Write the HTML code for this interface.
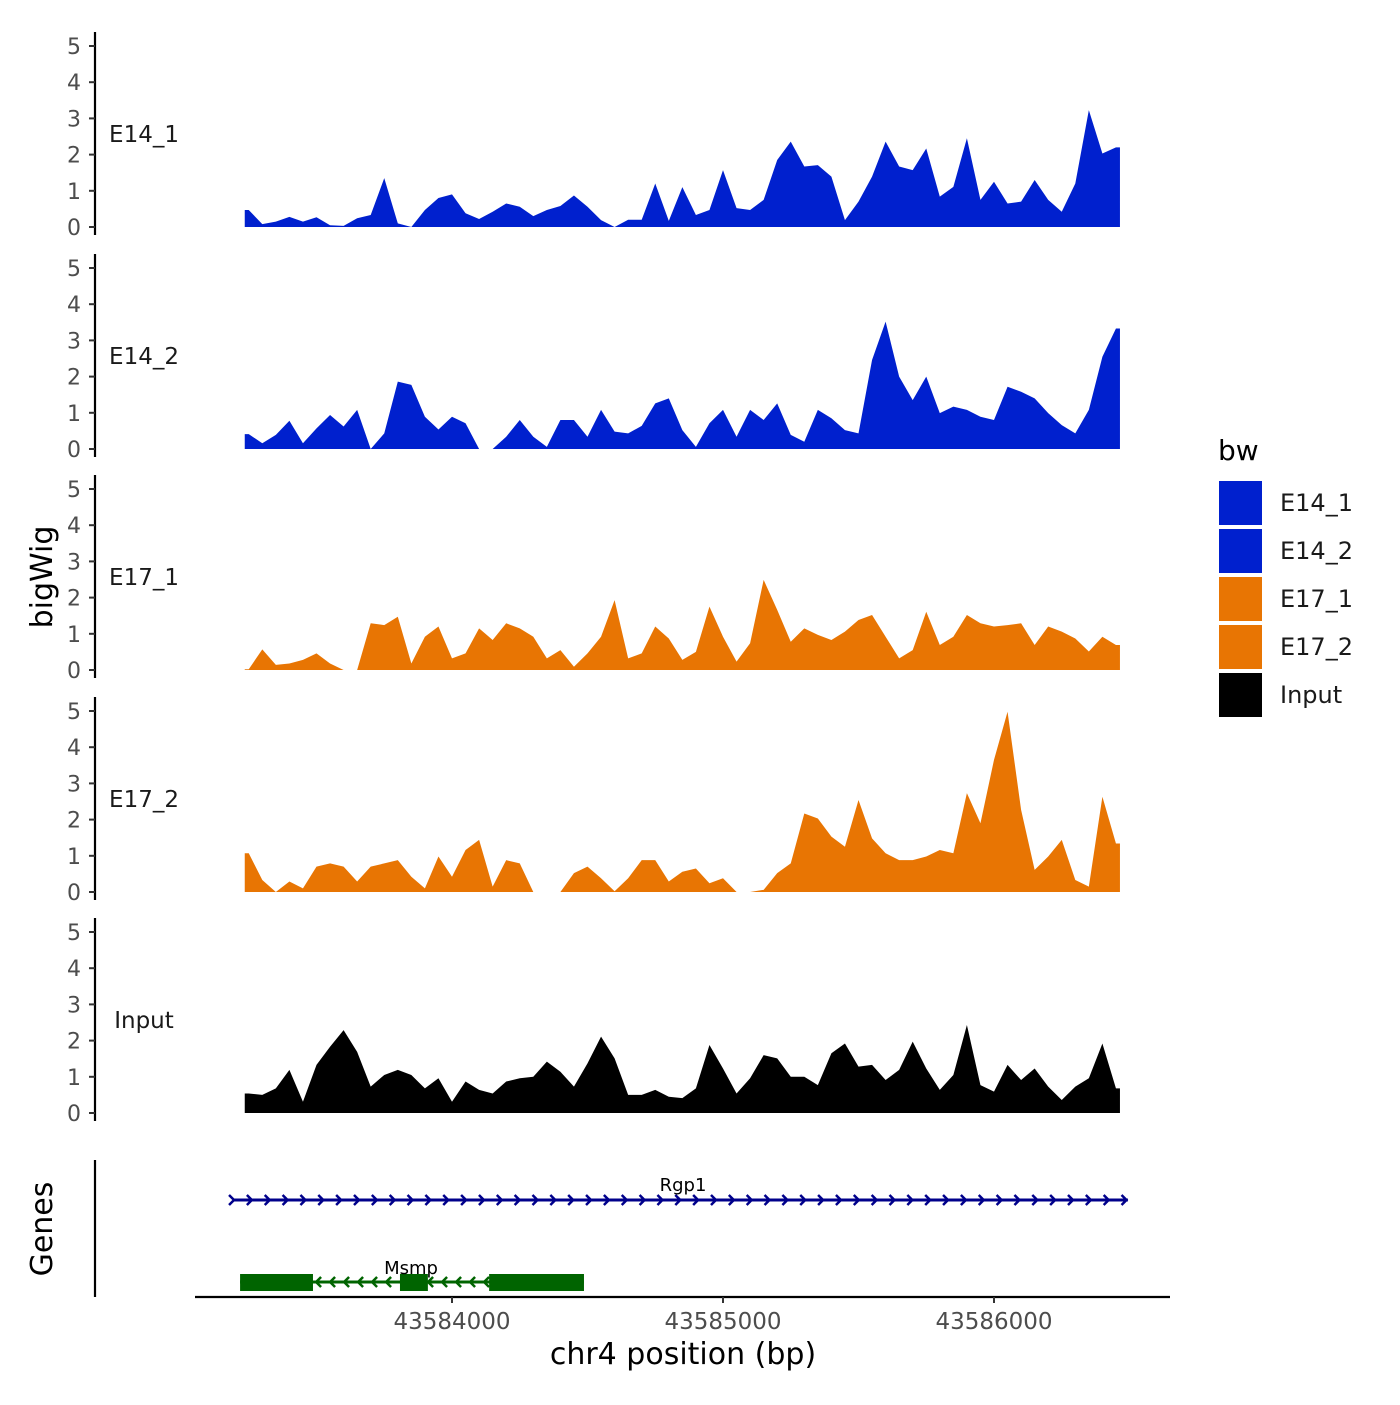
<!DOCTYPE html>
<html><head><meta charset="utf-8"><style>
body{margin:0;background:#fff}
svg text{font-family:"DejaVu Sans","Liberation Sans",sans-serif}
</style></head><body>
<svg id="chart" width="1400" height="1400" viewBox="0 0 1400 1400" xmlns="http://www.w3.org/2000/svg">
<rect width="1400" height="1400" fill="#fff"/>
<g id="tracks"></g>
<g id="genes"></g>
<g id="xaxis"></g>
<text transform="translate(52,577) rotate(-90)" text-anchor="middle" font-size="30" fill="#000">bigWig</text>
<text transform="translate(52,1229) rotate(-90)" text-anchor="middle" font-size="30" fill="#000">Genes</text>
<text x="683" y="1364" text-anchor="middle" font-size="30" fill="#000">chr4 position (bp)</text>
<g>
<text x="1218" y="460" font-size="28" fill="#000">bw</text>
<g id="legend"></g>
</g>
</svg>
<script>
const bins = [];
for (let i = 0; i <= 64; i++) bins.push(43583250 + 50 * i);
const trackNames = ["E14_1","E14_2","E17_1","E17_2","Input"];
const trackColors = ["#0020CE","#0020CE","#E87503","#E87503","#000000"];
const e14_1 = [0.47,0.08,0.15,0.28,0.15,0.27,0.05,0.03,0.24,0.33,1.35,0.1,0,0.47,0.8,0.9,0.38,0.22,0.42,0.65,0.56,0.3,0.47,0.58,0.87,0.56,0.19,0,0.2,0.2,1.2,0.17,1.1,0.33,0.47,1.57,0.52,0.47,0.75,1.85,2.36,1.67,1.71,1.39,0.19,0.7,1.39,2.36,1.67,1.57,2.17,0.84,1.11,2.45,0.75,1.25,0.65,0.7,1.3,0.75,0.42,1.2,3.23,2.03,2.2];
const e14_2 = [0.41,0.16,0.39,0.78,0.16,0.57,0.94,0.62,1.08,0,0.43,1.86,1.77,0.89,0.54,0.89,0.71,0,0,0.34,0.8,0.34,0.06,0.8,0.8,0.34,1.08,0.48,0.43,0.64,1.26,1.4,0.52,0.06,0.71,1.08,0.34,1.08,0.8,1.26,0.39,0.2,1.08,0.85,0.52,0.43,2.46,3.52,2.0,1.35,2.0,0.99,1.17,1.08,0.89,0.8,1.72,1.58,1.4,0.99,0.66,0.43,1.08,2.55,3.33];
const e17_1 = [0.02,0.57,0.14,0.18,0.28,0.46,0.18,0,0,1.29,1.24,1.47,0.18,0.92,1.2,0.32,0.46,1.15,0.83,1.29,1.15,0.92,0.32,0.55,0.09,0.46,0.92,1.93,0.32,0.46,1.2,0.87,0.28,0.5,1.75,0.92,0.23,0.74,2.49,1.66,0.78,1.15,0.97,0.83,1.06,1.38,1.52,0.92,0.32,0.55,1.61,0.69,0.92,1.52,1.29,1.2,1.24,1.29,0.69,1.2,1.06,0.87,0.51,0.92,0.69];
const e17_2 = [1.07,0.33,0,0.29,0.1,0.7,0.79,0.7,0.29,0.7,0.79,0.88,0.42,0.1,0.98,0.42,1.16,1.44,0.15,0.88,0.79,0,0,0,0.52,0.7,0.38,0.02,0.38,0.88,0.88,0.29,0.56,0.65,0.24,0.38,0,0,0.06,0.52,0.79,2.17,2.03,1.53,1.25,2.54,1.48,1.07,0.88,0.88,0.98,1.16,1.07,2.73,1.9,3.65,4.98,2.27,0.61,0.98,1.44,0.33,0.15,2.63,1.34];
const input = [0.54,0.5,0.68,1.19,0.31,1.33,1.83,2.29,1.69,0.73,1.05,1.19,1.05,0.68,0.96,0.31,0.87,0.64,0.54,0.87,0.96,1.0,1.42,1.14,0.73,1.37,2.11,1.51,0.5,0.5,0.64,0.45,0.41,0.68,1.88,1.23,0.54,0.96,1.6,1.51,1.0,1.0,0.77,1.65,1.92,1.28,1.33,0.91,1.19,1.97,1.23,0.64,1.05,2.43,0.77,0.59,1.33,0.91,1.23,0.73,0.36,0.73,0.96,1.92,0.68];
const yTicks = [0,1,2,3,4,5];
const xTicks = [43584000,43585000,43586000];
const xTickLabels = ["43584000","43585000","43586000"];
const legendLabels = ["E14_1","E14_2","E17_1","E17_2","Input"];
const genesList = ["Rgp1","Msmp"];
const rgp1Span = [43583192, 43586494];
const msmpSpan = [43583218, 43584487];
const msmpExons = [[43583218,43583487],[43583808,43583911],[43584137,43584487]];

const NS = "http://www.w3.org/2000/svg";
const xScale = bp => 452 + (bp - 43584000) * 0.271;
const baselines = [227, 449, 670, 892, 1113];
const yScale = (v, t) => baselines[t] - v * 36.2;
function mk(tag, attrs, parent) {
  const e = document.createElementNS(NS, tag);
  for (const k in attrs) e.setAttribute(k, attrs[k]);
  parent.appendChild(e);
  return e;
}
const series = [e14_1, e14_2, e17_1, e17_2, input];
const tracksG = document.getElementById("tracks");
series.forEach((vals, t) => {
  const g = mk("g", {}, tracksG);
  
  
  const ax = mk("line", {x1:95, x2:95, y1:baselines[t]-195, y2:baselines[t]+8, stroke:"#000", "stroke-width":2.2}, g);
  
  
  yTicks.forEach(v => {
    const y = yScale(v, t);
    const tk = mk("line", {x1:89, x2:95, y1:y, y2:y, stroke:"#333", "stroke-width":2}, g);
    
    
    const tl = mk("text", {x:81, y:y+8, "text-anchor":"end", "font-size":22, fill:"#4d4d4d"}, g);
    tl.textContent = v;
    
    
  });
  const lbl = mk("text", {x:144, y:baselines[t]-85, "text-anchor":"middle", "font-size":23, fill:"#1a1a1a"}, g);
  lbl.textContent = trackNames[t];
  
  
  let seg = [];
  const flush = () => {
    if (seg.length > 1) {
      let d = "M" + (seg[0][0]-4) + "," + baselines[t] + " L" + (seg[0][0]-4) + "," + seg[0][1];
      seg.forEach(p => d += " L" + p[0] + "," + p[1]);
      d += " L" + (seg[seg.length-1][0]+4) + "," + seg[seg.length-1][1] + " L" + (seg[seg.length-1][0]+4) + "," + baselines[t] + " Z";
      const p = mk("path", {d:d, fill:trackColors[t]}, g);
      
      
    }
    seg = [];
  };
  vals.forEach((v, i) => {
    if (v === null) { flush(); return; }
    seg.push([xScale(bins[i]), yScale(v, t)]);
  });
  flush();
});

const gG = document.getElementById("genes");
const gax = mk("line", {x1:95, x2:95, y1:1160, y2:1297, stroke:"#000", "stroke-width":2.2}, gG);


const rg = mk("g", {}, gG);


mk("line", {x1:xScale(rgp1Span[0]), x2:xScale(rgp1Span[1]), y1:1200, y2:1200, stroke:"#00008B", "stroke-width":3}, rg);
for (let x = xScale(rgp1Span[0]); x <= xScale(rgp1Span[1]) + 1; x += 17.85) {
  mk("path", {d:`M${x-4},${1195} L${x+1},${1200} L${x-4},${1205}`, fill:"none", stroke:"#00008B", "stroke-width":2.5}, rg);
}
const rt = mk("text", {x:683, y:1191, "text-anchor":"middle", "font-size":18, fill:"#000"}, rg);
rt.textContent = genesList[0];
const ms = mk("g", {}, gG);


mk("line", {x1:xScale(msmpSpan[0]), x2:xScale(msmpSpan[1]), y1:1282, y2:1282, stroke:"#006400", "stroke-width":3}, ms);
for (let x = xScale(msmpSpan[0]) + 8; x < xScale(msmpSpan[1]); x += 14) {
  mk("path", {d:`M${x+3},${1277} L${x-2},${1282} L${x+3},${1287}`, fill:"none", stroke:"#006400", "stroke-width":2.5}, ms);
}
msmpExons.forEach(e => {
  mk("rect", {x:xScale(e[0]), y:1274, width:xScale(e[1])-xScale(e[0]), height:17, fill:"#006400"}, ms);
});
const mt = mk("text", {x:411, y:1274, "text-anchor":"middle", "font-size":18, fill:"#000"}, ms);
mt.textContent = genesList[1];

const xG = document.getElementById("xaxis");
const xl = mk("line", {x1:195, x2:1170, y1:1297, y2:1297, stroke:"#000", "stroke-width":2.2}, xG);


xTicks.forEach((bp, i) => {
  const x = xScale(bp);
  const tk = mk("line", {x1:x, x2:x, y1:1297, y2:1303, stroke:"#333", "stroke-width":2}, xG);
  
  
  const tl = mk("text", {x:x, y:1329, "text-anchor":"middle", "font-size":23, fill:"#4d4d4d"}, xG);
  tl.textContent = xTickLabels[i];
  
  
});

const lG = document.getElementById("legend");
const legendColors = ["#0020CE","#0020CE","#E87503","#E87503","#000000"];
legendLabels.forEach((l, i) => {
  const y = 480 + 48 * i;
  const g = mk("g", {}, lG);
  
  
  mk("rect", {x:1218, y:y, width:45, height:46, fill:legendColors[i], stroke:"#fff", "stroke-width":2}, g);
  const t = mk("text", {x:1280, y:y+31, "font-size":24, fill:"#1a1a1a"}, g);
  t.textContent = l;
});
</script>
</body></html>
